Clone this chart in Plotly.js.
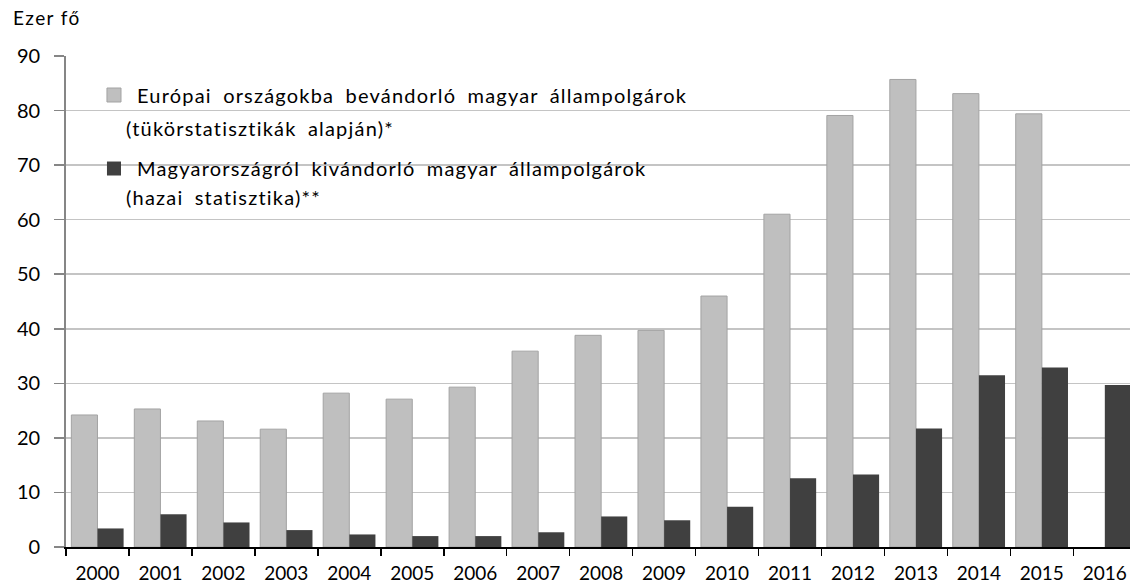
<!DOCTYPE html>
<html><head><meta charset="utf-8">
<script src="https://cdn.plot.ly/plotly-3.0.1.min.js"></script>
<style>
body{margin:0;padding:0;background:#fff}
#chart{width:1130px;height:586px}
#chart .annotation[data-index="1"] .annotation-text,
#chart .annotation[data-index="2"] .annotation-text,
#chart .annotation[data-index="3"] .annotation-text,
#chart .annotation[data-index="4"] .annotation-text{letter-spacing:1.2px;word-spacing:5px}
#chart .annotation[data-index="0"] .annotation-text{letter-spacing:1.4px}
</style>
</head><body><div id="chart"></div>
<script>
const years = ["2000","2001","2002","2003","2004","2005","2006","2007","2008","2009","2010","2011","2012","2013","2014","2015","2016"];
const europeanImmigrants = [24.2,25.3,23.1,21.6,28.2,27.1,29.3,35.9,38.8,39.7,46.0,61.0,79.1,85.7,83.1,79.4,null];
const domesticEmigrants = [3.4,6.0,4.5,3.1,2.3,2.0,2.0,2.7,5.6,4.9,7.4,12.6,13.3,21.7,31.5,32.9,29.7];
const seriesEuropeanLines = ["Európai országokba bevándorló magyar állampolgárok", "(tükörstatisztikák alapján)*"];
const seriesDomesticLines = ["Magyarországról kivándorló magyar állampolgárok", "(hazai statisztika)**"];
const unitLabel = "Ezer fő";

const FONT = "Lato, 'Open Sans', sans-serif";
const LIGHT = "#bfbfbf", LIGHT_EDGE = "#a3a3a3", DARK = "#404040";
const data = [
  {type:"bar", x:years, y:europeanImmigrants, name:seriesEuropeanLines.join(" "),
   marker:{color:LIGHT, line:{color:LIGHT_EDGE, width:1}}},
  {type:"bar", x:years, y:domesticEmigrants, name:seriesDomesticLines.join(" "),
   marker:{color:DARK, line:{width:0}}}
];
const legendFont = {family:FONT, size:20, color:"#000"};
function legendText(text, x, y) {
  return {text:text, xref:"paper", yref:"paper", x:x, y:y, xanchor:"left", yanchor:"middle",
          align:"left", showarrow:false, font:legendFont};
}
const layout = {
  width:1130, height:586,
  margin:{l:66, r:0, t:56, b:39},
  paper_bgcolor:"#fff", plot_bgcolor:"#fff",
  font:{family:FONT, size:20, color:"#000"},
  barmode:"group", bargap:0.17, bargroupgap:0,
  showlegend:false,
  xaxis:{type:"category", range:[-0.5,16.4], tickson:"boundaries", ticks:"outside",
         ticklen:7, tickwidth:1.5, tickcolor:"#000", showline:true, linecolor:"#000", linewidth:1.8,
         showgrid:false, automargin:false, ticklabelstandoff:8, tickfont:{family:FONT, size:19}},
  yaxis:{range:[0,90], dtick:10, ticks:"outside", ticklen:10, tickcolor:"#868686", tickwidth:1.5,
         showline:true, linecolor:"#868686", linewidth:1.8, showgrid:true, gridcolor:"#c4c4c4",
         gridwidth:1.5, zeroline:false, automargin:false, ticklabelstandoff:10,
         tickfont:{family:FONT, size:20}},
  shapes:[
    {type:"rect", layer:"between", xref:"paper", yref:"paper",
     x0:0.0244, x1:0.638, y0:0.678, y1:0.988, fillcolor:"#fff", line:{width:0}},
    {type:"rect", layer:"above", xref:"paper", yref:"paper",
     x0:0.0385, x1:0.0517, y0:0.9063, y1:0.9348, fillcolor:LIGHT, line:{color:LIGHT_EDGE, width:1}},
    {type:"rect", layer:"above", xref:"paper", yref:"paper",
     x0:0.0385, x1:0.0517, y0:0.7566, y1:0.7851, fillcolor:DARK, line:{width:0}}
  ],
  annotations:[
    {text:unitLabel, xref:"paper", yref:"paper", x:-0.052, y:1.079, xanchor:"left", yanchor:"middle", align:"left",
     showarrow:false, font:{family:FONT, size:19, color:"#000"}},
    legendText(seriesEuropeanLines[0], 0.0648, 0.9206),
    legendText(seriesEuropeanLines[1], 0.0545, 0.853),
    legendText(seriesDomesticLines[0], 0.0648, 0.7719),
    legendText(seriesDomesticLines[1], 0.0545, 0.7128)
  ]
};
Plotly.newPlot("chart", data, layout, {displayModeBar:false, staticPlot:true});
</script></body></html>
